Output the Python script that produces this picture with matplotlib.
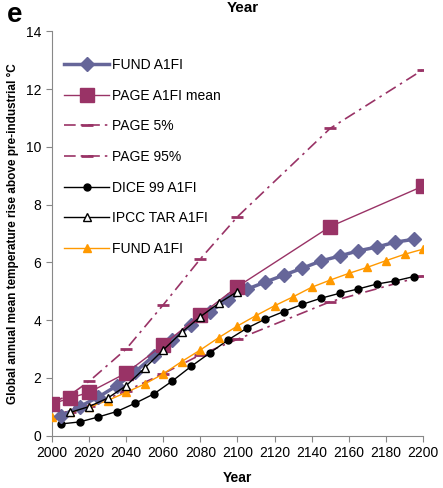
import matplotlib
matplotlib.use("Agg")
import matplotlib.pyplot as plt

plt.rcParams['font.family'] = ['Liberation Sans', 'DejaVu Sans']

# FUND A1FI (diamants bleus), tous les 10 ans
fund_years = list(range(2005, 2200, 10))
fund_vals = [0.69, 1.01, 1.34, 1.73, 2.22, 2.77, 3.32, 3.84, 4.3, 4.7,
             5.07, 5.32, 5.56, 5.8, 6.05, 6.22, 6.4, 6.53, 6.7, 6.8]

# PAGE A1FI
page_years = [2000, 2010, 2020, 2040, 2060, 2080, 2100, 2150, 2200]
page_mean = [1.1, 1.31, 1.5, 2.17, 3.15, 4.18, 5.16, 7.24, 8.64]
page_5 = [0.62, 0.82, 1.02, 1.55, 2.15, 2.8, 3.34, 4.64, 5.53]
page_95 = [1.15, 1.42, 1.88, 3.0, 4.53, 6.12, 7.58, 10.64, 12.67]

# DICE 99 A1FI
dice_years = list(range(2005, 2200, 10))
dice_vals = [0.41, 0.48, 0.65, 0.84, 1.13, 1.45, 1.9, 2.4, 2.86, 3.32,
             3.72, 4.04, 4.3, 4.55, 4.76, 4.93, 5.08, 5.25, 5.36, 5.51]

# IPCC TAR A1FI
ipcc_years = list(range(2010, 2101, 10))
ipcc_vals = [0.81, 1.01, 1.3, 1.73, 2.34, 2.97, 3.58, 4.12, 4.59, 4.99]

# FUND A1FI (triangles orange)
fund2_years = list(range(2000, 2201, 10))
fund2_vals = [0.65, 0.81, 0.99, 1.22, 1.5, 1.79, 2.14, 2.57, 2.97, 3.4, 3.8,
              4.16, 4.5, 4.81, 5.14, 5.39, 5.62, 5.83, 6.06, 6.28, 6.46]

page_col = '#993366'
fund_col = '#666699'
orange = '#FF9900'
dashdot = (0, (7, 3, 1.5, 3))

fig = plt.figure(figsize=(4.43, 4.88), dpi=100)
ax = fig.add_axes([0.117, 0.107, 0.838, 0.829])

ax.plot(fund_years, fund_vals, color=fund_col, lw=2.5, marker='D', ms=7,
        label='FUND A1FI', zorder=5)
ax.plot(page_years, page_mean, color=page_col, lw=1, marker='s', ms=10,
        label='PAGE A1FI mean', zorder=6)
ax.plot(page_years, page_5, color=page_col, lw=1.2, ls=dashdot, marker='_',
        ms=8, mew=2, label='PAGE 5%', zorder=3)
ax.plot(page_years, page_95, color=page_col, lw=1.2, ls=dashdot, marker='_',
        ms=8, mew=2, label='PAGE 95%', zorder=3)
ax.plot(dice_years, dice_vals, color='black', lw=1, marker='o', ms=5,
        label='DICE 99 A1FI', zorder=4)
ax.plot(ipcc_years, ipcc_vals, color='black', lw=1, marker='^', ms=6,
        mfc='white', mec='black', label='IPCC TAR A1FI', zorder=7)
ax.plot(fund2_years, fund2_vals, color=orange, lw=1, marker='^', ms=6,
        label='FUND A1FI', zorder=4)

ax.set_xlim(2000, 2200)
ax.set_ylim(0, 14)
ax.set_xticks(range(2000, 2201, 20))
ax.set_yticks(range(0, 15, 2))
for s in ['top', 'right']:
    ax.spines[s].set_visible(False)
for s in ['left', 'bottom']:
    ax.spines[s].set_color('#888888')
ax.tick_params(colors='#888888', labelcolor='black', labelsize=10, length=4)

ax.set_xlabel('Year', fontsize=10, fontweight='bold', labelpad=8)
ax.set_ylabel('Global annual mean temperature rise above pre-industrial \u00b0C',
              fontsize=8.5, fontweight='bold', labelpad=5)
fig.text(0.548, 0.984, 'Year', ha='center', va='center', fontsize=11, fontweight='bold')
fig.text(0.015, 0.995, 'e', fontsize=20, fontweight='bold', va='top')

leg = ax.legend(loc='upper left', bbox_to_anchor=(0.0, 0.965), frameon=False,
                fontsize=10, handlelength=3.2, labelspacing=1.2, handletextpad=0.2)

fig.savefig('out.png', dpi=100)
